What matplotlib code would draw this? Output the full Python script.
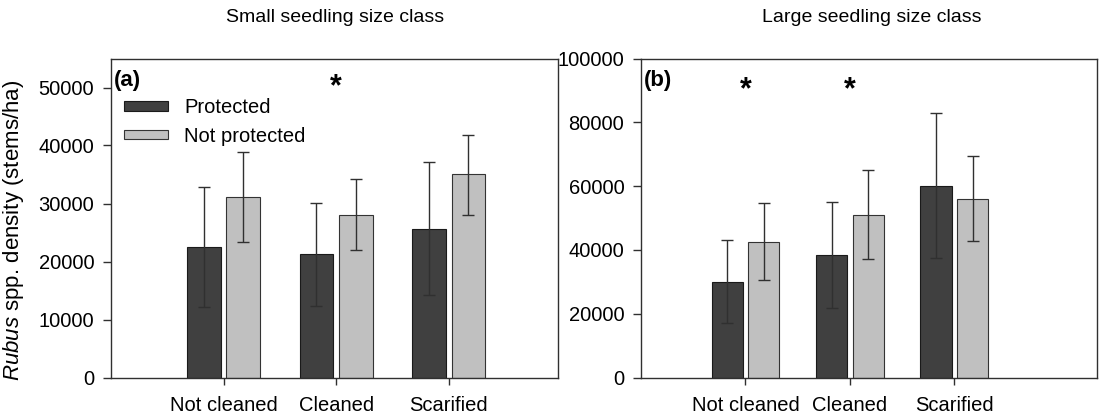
import matplotlib
matplotlib.use("Agg")
import matplotlib.pyplot as plt
import numpy as np

plt.rcParams["font.family"] = "Liberation Sans"
plt.rcParams["mathtext.fontset"] = "custom"
plt.rcParams["mathtext.rm"] = "Liberation Sans"
plt.rcParams["mathtext.it"] = "Liberation Sans:italic"

treatments = ["Not cleaned", "Cleaned", "Scarified"]
series_names = ["Protected", "Not protected"]

# small seedling size class (stems/ha)
small_prot = [22500, 21250, 25550]
small_prot_lo = [12200, 12350, 14150]
small_prot_hi = [32850, 30100, 37100]
small_open = [31150, 28050, 35000]
small_open_lo = [23400, 21950, 28100]
small_open_hi = [38950, 34150, 41850]

# large seedling size class (stems/ha)
large_prot = [29900, 38550, 60100]
large_prot_lo = [17000, 21900, 37500]
large_prot_hi = [43100, 55100, 82900]
large_open = [42500, 51050, 55950]
large_open_lo = [30600, 37300, 42800]
large_open_hi = [54600, 64900, 69300]

small_signif = [1]
large_signif = [0, 1]

DARK = "#404040"
LIGHT = "#c0c0c0"
LINE = "#303030"
FS = 14.5

fig = plt.figure(figsize=(10.99, 4.17), dpi=100)
W, H = 1099, 417


def px_axes(x0, x1, y0, y1):
    return fig.add_axes([x0 / W, 1 - y1 / H, (x1 - x0) / W, (y1 - y0) / H])


def draw_panel(ax, prot, p_lo, p_hi, opn, o_lo, o_hi, ymax, ystep, xmax, signif, star_y, tag):
    x = np.arange(len(treatments))
    w, off = 0.30, 0.175
    p_err = [np.array(prot) - np.array(p_lo), np.array(p_hi) - np.array(prot)]
    o_err = [np.array(opn) - np.array(o_lo), np.array(o_hi) - np.array(opn)]
    ax.bar(x - off, prot, w, color=DARK, edgecolor="#1a1a1a", linewidth=0.8,
           label=series_names[0], zorder=2)
    ax.bar(x + off, opn, w, color=LIGHT, edgecolor="#333333", linewidth=0.8,
           label=series_names[1], zorder=2)
    ax.errorbar(x - off, prot, yerr=p_err, fmt="none", ecolor=LINE,
                elinewidth=1, capsize=4, capthick=1, zorder=3)
    ax.errorbar(x + off, opn, yerr=o_err, fmt="none", ecolor=LINE,
                elinewidth=1, capsize=4, capthick=1, zorder=3)
    ax.set_xlim(-1.0, xmax)
    ax.set_ylim(0, ymax)
    ax.set_xticks(x)
    ax.set_xticklabels(treatments, fontsize=FS)
    yt = np.arange(0, ymax + 1, ystep)
    ax.set_yticks(yt)
    ax.set_yticklabels([str(int(v)) for v in yt], fontsize=FS)
    ax.tick_params(axis="x", length=5, width=1, color=LINE, pad=8, direction="out")
    ax.tick_params(axis="y", length=6, width=1, color=LINE, pad=6, direction="out")
    for s in ax.spines.values():
        s.set_color(LINE)
        s.set_linewidth(1)
    for i in signif:
        ax.text(x[i], star_y, "*", ha="center", va="center",
                fontsize=22, fontweight="bold")
    ax.text(0.006, 0.965, tag, transform=ax.transAxes, ha="left", va="top",
            fontsize=16, fontweight="bold")


ax1 = px_axes(111, 558, 58.5, 377.5)
draw_panel(ax1, small_prot, small_prot_lo, small_prot_hi,
           small_open, small_open_lo, small_open_hi,
           55000, 10000, 2.97, small_signif, 50000, "(a)")
ax1.set_yticks(np.arange(0, 50001, 10000))
ax1.set_ylabel(r"$\mathit{Rubus}$ spp. density (stems/ha)", fontsize=16)
ax1.yaxis.set_label_coords(-0.19, 0.46)
ax1.legend(loc="upper left", bbox_to_anchor=(0.01, 0.9), frameon=False,
           fontsize=FS, handlelength=2.2, handleheight=0.35,
           handletextpad=0.8, labelspacing=0.45, borderaxespad=0)

ax2 = px_axes(641, 1096.5, 58.5, 377.5)
draw_panel(ax2, large_prot, large_prot_lo, large_prot_hi,
           large_open, large_open_lo, large_open_hi,
           100000, 20000, 3.36, large_signif, 90000, "(b)")

fig.text(335 / W, 1 - 17 / H, "Small seedling size class", ha="center", va="center", fontsize=14)
fig.text(872 / W, 1 - 18 / H, "Large seedling size class", ha="center", va="center", fontsize=14)

fig.savefig("out.png", dpi=100)
